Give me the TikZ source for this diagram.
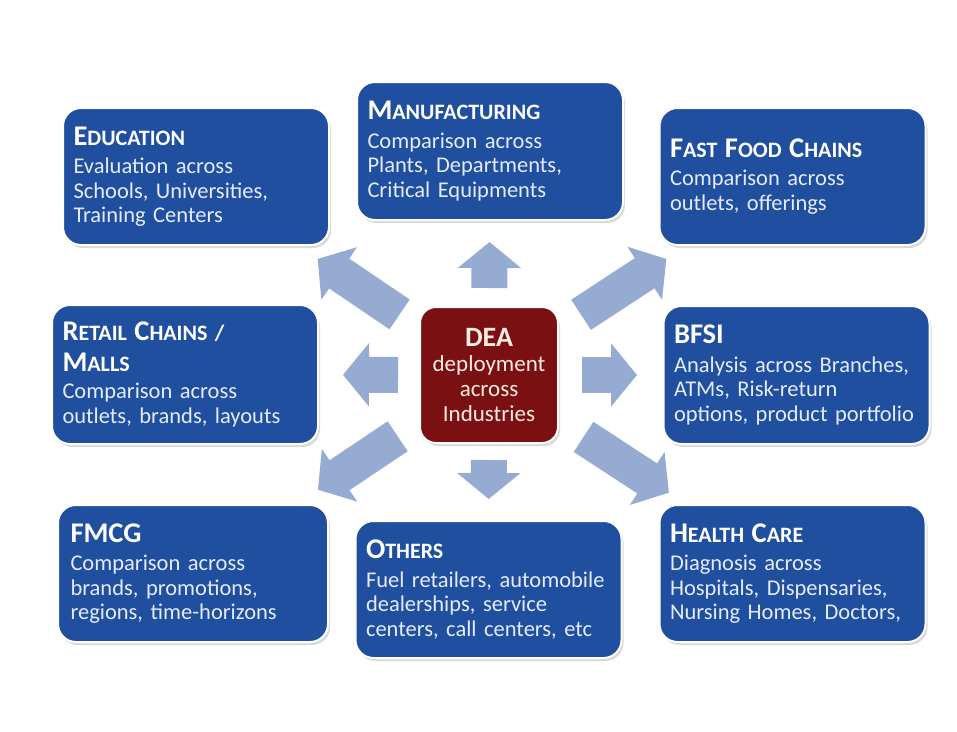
\documentclass[tikz,border=0pt]{standalone}
\usepackage{fontspec}
\setmainfont{Carlito}
\usetikzlibrary{arrows.meta, calc, shadows}

\definecolor{boxblue}{RGB}{31,79,158}
\definecolor{deared}{RGB}{122,16,18}
\definecolor{arrowblue}{RGB}{149,171,209}
\definecolor{bodytext}{RGB}{228,236,250}
\definecolor{deatext}{RGB}{250,236,226}

\newcommand\hd[2]{{\color{white}\bfseries\fontsize{28.5}{28}\selectfont #1\fontsize{22}{28}\selectfont #2}}

\begin{document}
\begin{tikzpicture}[x=1pt, y=-1pt,
	sector/.style={draw=white, line width=2pt, fill=boxblue, rounded corners=18pt,
		minimum width=266pt, minimum height=137pt, text width=245pt, inner xsep=10.5pt,
		align=left, text=bodytext, font=\fontsize{22.5}{24.5}\selectfont,
		drop shadow={shadow xshift=2pt, shadow yshift=-3pt, opacity=0.3}},
	blk/.style={arrowblue, line width=36pt, -{Triangle[length=26pt, width=62pt]}}]
		\useasboundingbox (0,0) rectangle (957,731);
		
		% centre
		\node[draw=white, line width=2pt, fill=deared, rounded corners=16pt,
		minimum width=138pt, minimum height=136pt, text width=128pt, align=center,
		text=deatext, font=\fontsize{23}{25}\selectfont,
		drop shadow={shadow xshift=2pt, shadow yshift=-3pt, opacity=0.3}]
		(dea) at (489,375)
		{{\bfseries\fontsize{28}{28}\selectfont DEA}\\ deployment\\ across\\ Industries};
		
		% industries
		\node[sector] (educ) at (196,176.5)
		{\hd{E}{DUCATION}\\[4pt] Evaluation across\\ Schools, Universities,\\ Training Centers};
		\node[sector, minimum height=138pt] (manu) at (490,151)
		{\hd{M}{ANUFACTURING}\\[4pt] Comparison across\\ Plants, Departments,\\ Critical Equipments};
		\node[sector] (fast) at (792.5,176.5)
		{\hd{F}{AST }\hd{F}{OOD }\hd{C}{HAINS}\\[4pt] Comparison across\\ outlets, offerings};
		\node[sector, minimum height=139pt] (retail) at (185,374.5)
		{\hd{R}{ETAIL }\hd{C}{HAINS /}\\[6pt] \hd{M}{ALLS}\\[3pt] Comparison across\\ outlets, brands, layouts};
		\node[sector, minimum height=138pt] (bfsi) at (796.5,375)
		{\hd{B}{\fontsize{28.5}{28}\selectfont FSI}\\[4pt] Analysis across Branches,\\ ATMs, Risk-return\\ options, product portfolio};
		\node[sector, minimum width=270pt] (fmcg) at (193,573.5)
		{\hd{F}{\fontsize{28.5}{28}\selectfont MCG}\\[4pt] Comparison across\\ brands, promotions,\\ regions, time-horizons};
		\node[sector] (others) at (488.5,589.5)
		{\hd{O}{THERS}\\[4pt] Fuel retailers, automobile\\ dealerships, service\\ centers, call centers, etc};
		\node[sector] (health) at (792.5,573.5)
		{\hd{H}{EALTH }\hd{C}{ARE}\\[4pt] Diagnosis across\\ Hospitals, Dispensaries,\\ Nursing Homes, Doctors,};
		
		% arrows
		\draw[blk] ($(dea.center)!108pt!(educ.center)$) -- ($(dea.center)!207pt!(educ.center)$);
		\draw[blk] ($(dea.center)!87pt!(manu.center)$) -- ($(dea.center)!133pt!(manu.center)$);
		\draw[blk] ($(dea.center)!110pt!(fast.center)$) -- ($(dea.center)!212pt!(fast.center)$);
		\draw[blk] ($(dea.center)!91pt!(retail.center)$) -- ($(dea.center)!146pt!(retail.center)$);
		\draw[blk] ($(dea.center)!93pt!(bfsi.center)$) -- ($(dea.center)!148pt!(bfsi.center)$);
		\draw[blk] ($(dea.center)!110pt!(fmcg.center)$) -- ($(dea.center)!206pt!(fmcg.center)$);
		\draw[blk] ($(dea.center)!85pt!(others.center)$) -- ($(dea.center)!124pt!(others.center)$);
		\draw[blk] ($(dea.center)!113pt!(health.center)$) -- ($(dea.center)!215pt!(health.center)$);
	\end{tikzpicture}
\end{document}
